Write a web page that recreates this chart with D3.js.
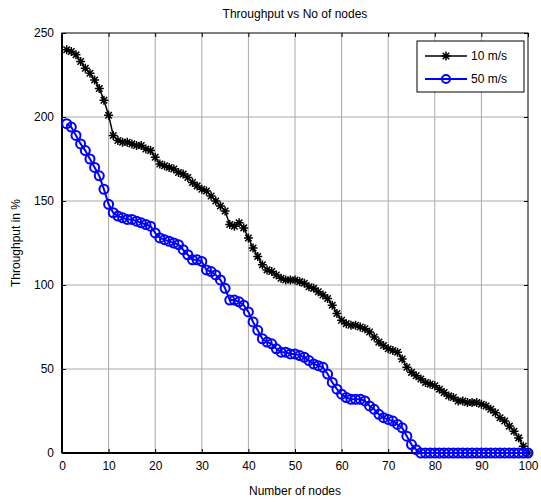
<!DOCTYPE html>
<html>
<head>
<meta charset="utf-8">
<script src="https://cdn.jsdelivr.net/npm/d3@7"></script>
<style>
  body { margin: 0; background: #fff; }
  text { font-family: "Liberation Sans", Arial, sans-serif; }
</style>
</head>
<body>
<div id="chart"></div>
<script>
// Data
const nodes = d3.range(1, 101);
const speed10 = [240, 239, 237, 233, 229, 226, 222, 217, 210, 201,
    189, 186, 185, 185, 184, 183, 183, 181, 180, 176,
    172, 171, 170, 169, 167, 166, 164, 161, 159, 157,
    156, 153, 150, 147, 144, 136, 135, 137, 134, 128,
    122, 117, 112, 109, 108, 106, 104, 103, 103, 103,
    102, 101, 99, 98, 96, 94, 92, 88, 83, 79,
    77, 76, 76, 75, 74, 72, 69, 66, 64, 62,
    61, 60, 56, 51, 48, 46, 44, 42, 41, 40,
    38, 36, 34, 33, 31, 31, 30, 30, 30, 29,
    28, 26, 24, 21, 19, 16, 13, 9, 4, 0];
const speed50 = [196, 194, 189, 184, 180, 175, 170, 165, 157, 148,
    143, 141, 140, 139, 139, 138, 137, 136, 135, 131,
    128, 127, 126, 125, 124, 121, 118, 115, 115, 114,
    109, 108, 106, 103, 98, 91, 91, 90, 88, 84,
    78, 73, 68, 66, 65, 62, 60, 60, 59, 59,
    58, 57, 55, 53, 52, 51, 47, 42, 38, 35,
    33, 32, 32, 32, 31, 28, 26, 23, 21, 20,
    19, 17, 15, 10, 5, 2, 0, 0, 0, 0,
    0, 0, 0, 0, 0, 0, 0, 0, 0, 0,
    0, 0, 0, 0, 0, 0, 0, 0, 0, 0];
const xTicks = [0, 10, 20, 30, 40, 50, 60, 70, 80, 90, 100];
const yTicks = [0, 50, 100, 150, 200, 250];
const seriesNames = ["10 m/s", "50 m/s"];

const width = 541, height = 502;
const margin = { top: 33, right: 13, bottom: 49, left: 62 };
const w = width - margin.left - margin.right;
const h = height - margin.top - margin.bottom;

const svg = d3.select("#chart").append("svg")
    .attr("width", width)
    .attr("height", height);

const g = svg.append("g")
    .attr("transform", `translate(${margin.left},${margin.top})`);

const x = d3.scaleLinear().domain([0, 100]).range([0, w]);
const y = d3.scaleLinear().domain([0, 250]).range([h, 0]);

// grid
g.selectAll(".vgrid")
    .data(xTicks.slice(1, -1))
    .enter().append("line")
    .attr("x1", d => x(d)).attr("x2", d => x(d))
    .attr("y1", 0).attr("y2", h)
    .attr("stroke", "#a8a8a8").attr("stroke-width", 1);

g.selectAll(".hgrid")
    .data(yTicks.slice(1, -1))
    .enter().append("line")
    .attr("x1", 0).attr("x2", w)
    .attr("y1", d => y(d)).attr("y2", d => y(d))
    .attr("stroke", "#a8a8a8").attr("stroke-width", 1);

// axes (ticks pointing inward, mirrored on top/right)
function styleAxis(sel) {
    sel.select(".domain").remove();
    sel.selectAll("text")
        .attr("font-size", 12)
        .attr("fill", "#000");
    sel.selectAll("line").attr("stroke", "#000");
}

g.append("g")
    .attr("transform", `translate(0,${h})`)
    .call(d3.axisBottom(x).tickValues(xTicks).tickSizeInner(-4).tickSizeOuter(0).tickPadding(8))
    .call(styleAxis);

g.append("g")
    .call(d3.axisLeft(y).tickValues(yTicks).tickSizeInner(-4).tickSizeOuter(0).tickPadding(8))
    .call(styleAxis);

g.append("g")
    .call(d3.axisTop(x).tickValues(xTicks).tickSizeInner(-4).tickSizeOuter(0).tickFormat(""))
    .call(styleAxis);

g.append("g")
    .attr("transform", `translate(${w},0)`)
    .call(d3.axisRight(y).tickValues(yTicks).tickSizeInner(-4).tickSizeOuter(0).tickFormat(""))
    .call(styleAxis);

// box
g.append("rect")
    .attr("width", w).attr("height", h)
    .attr("fill", "none").attr("stroke", "#000").attr("stroke-width", 1);
g.append("line").attr("x1", 0).attr("x2", 0).attr("y1", 0).attr("y2", h)
    .attr("stroke", "#000").attr("stroke-width", 2);
g.append("line").attr("x1", 0).attr("x2", w).attr("y1", h).attr("y2", h)
    .attr("stroke", "#000").attr("stroke-width", 2);

// star marker path (+ and x)
const starPath = (s) => {
    const d = s * 0.72;
    return `M${-s},0L${s},0M0,${-s}L0,${s}M${-d},${-d}L${d},${d}M${-d},${d}L${d},${-d}`;
};

const line = d3.line()
    .x((d, i) => x(nodes[i]))
    .y(d => y(d));

// 10 m/s series
g.append("path")
    .datum(speed10)
    .attr("d", line)
    .attr("fill", "none")
    .attr("stroke", "#000")
    .attr("stroke-width", 1.5);

g.selectAll(".star")
    .data(speed10)
    .enter().append("path")
    .attr("transform", (d, i) => `translate(${x(nodes[i])},${y(d)})`)
    .attr("d", starPath(4.5))
    .attr("stroke", "#000")
    .attr("stroke-width", 1.5)
    .attr("fill", "none");

// 50 m/s series
g.append("path")
    .datum(speed50)
    .attr("d", line)
    .attr("fill", "none")
    .attr("stroke", "#0000ff")
    .attr("stroke-width", 2);

g.selectAll(".circ")
    .data(speed50)
    .enter().append("circle")
    .attr("cx", (d, i) => x(nodes[i]))
    .attr("cy", d => y(d))
    .attr("r", 4.5)
    .attr("fill", "none")
    .attr("stroke", "#0000ff")
    .attr("stroke-width", 2);

// legend
const lg = svg.append("g").attr("transform", "translate(417,41)");
lg.append("rect")
    .attr("width", 107).attr("height", 51)
    .attr("fill", "#fff").attr("stroke", "#000").attr("stroke-width", 1);

lg.append("line").attr("x1", 8).attr("x2", 50).attr("y1", 15).attr("y2", 15)
    .attr("stroke", "#000").attr("stroke-width", 1.5);
lg.append("path").attr("transform", "translate(29,15)").attr("d", starPath(4.5))
    .attr("stroke", "#000").attr("stroke-width", 1.5);
lg.append("text").attr("x", 54).attr("y", 19).attr("font-size", 12).text(seriesNames[0]);

lg.append("line").attr("x1", 8).attr("x2", 50).attr("y1", 38).attr("y2", 38)
    .attr("stroke", "#0000ff").attr("stroke-width", 2);
lg.append("circle").attr("cx", 29).attr("cy", 38).attr("r", 4)
    .attr("fill", "none").attr("stroke", "#0000ff").attr("stroke-width", 2);
lg.append("text").attr("x", 54).attr("y", 42).attr("font-size", 12).text(seriesNames[1]);

// title and axis labels
svg.append("text")
    .attr("x", margin.left + w / 2)
    .attr("y", 18)
    .attr("text-anchor", "middle")
    .attr("font-size", 12)
    .text("Throughput vs No of nodes");

svg.append("text")
    .attr("x", margin.left + w / 2)
    .attr("y", 495)
    .attr("text-anchor", "middle")
    .attr("font-size", 12)
    .text("Number of nodes");

svg.append("text")
    .attr("transform", `translate(20,${margin.top + h / 2}) rotate(-90)`)
    .attr("text-anchor", "middle")
    .attr("font-size", 12)
    .text("Throughput in %");
</script>
</body>
</html>
